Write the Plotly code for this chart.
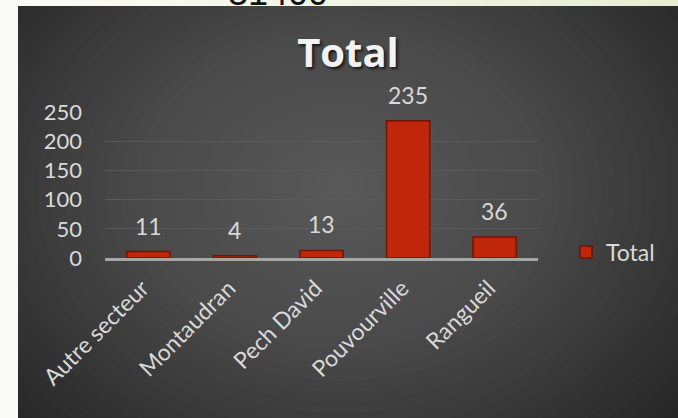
import plotly.graph_objects as go

categories = ["Autre secteur", "Montaudran", "Pech David", "Pouvourville", "Rangueil"]
totals = [11, 4, 13, 235, 36]
y_ticks = [0, 50, 100, 150, 200, 250]
series_name = "Total"
chart_title = "Total"
header_text = "31400"

W, H = 678, 418
# plot area in pixels
L, R, T, B = 105, 538, 112, 258


def fx(px):
    return (px - L) / (R - L)


def fy(py):
    return (B - py) / (B - T)


FONT = "Lato, 'Open Sans', sans-serif"
LABEL = "#d9d9d9"

fig = go.Figure()
fig.add_trace(go.Bar(
    x=categories, y=totals, name=series_name, width=0.5,
    marker=dict(color="#bf260a", line=dict(color="#6e1506", width=1.5)),
    showlegend=True, hoverinfo="x+y",
))

# dark panel with a soft radial glow
shapes = [dict(type="rect", xref="paper", yref="paper", x0=fx(18), x1=fx(W + 5),
               y0=fy(H + 5), y1=fy(6), fillcolor="#262626", line_width=0, layer="below")]
cx, cy = 340, 190
n = 32
for i in range(n):
    k = 1 - i / n
    rx, ry = 440 * k, 340 * k
    shapes.append(dict(type="circle", xref="paper", yref="paper",
                       x0=fx(cx - rx), x1=fx(cx + rx), y0=fy(cy + ry), y1=fy(cy - ry),
                       fillcolor="#808080", opacity=0.026, line_width=0, layer="below"))

# light page strips around the panel
shapes.append(dict(type="rect", xref="paper", yref="paper", x0=fx(-5), x1=fx(18),
                   y0=fy(H + 5), y1=fy(-5), fillcolor="#f9faf5", line_width=0, layer="below"))
segs = 24
c0 = (251, 251, 247)
c1 = (232, 237, 211)
for i in range(segs):
    t = i / (segs - 1)
    col = tuple(round(a + (b - a) * t) for a, b in zip(c0, c1))
    shapes.append(dict(type="rect", xref="paper", yref="paper",
                       x0=fx(18 + (W - 18) * i / segs), x1=fx(18 + (W - 18) * (i + 1) / segs + 1),
                       y0=fy(6), y1=fy(-5), fillcolor="rgb(%d,%d,%d)" % col,
                       line_width=0, layer="below"))

annotations = [dict(x=fx(278), y=fy(15), xref="paper", yref="paper", text=header_text,
                    showarrow=False, xanchor="center", yanchor="bottom",
                    font=dict(family="Liberation Sans, Arial", size=36, color="#111111"))]
for c, v in zip(categories, totals):
    annotations.append(dict(x=c, y=v, xref="x", yref="y", text=str(v), showarrow=False,
                            yanchor="bottom", yshift=10,
                            font=dict(family=FONT, size=23, color=LABEL)))

fig.update_layout(
    width=W, height=H,
    margin=dict(l=L, r=W - R, t=T, b=H - B, autoexpand=False),
    paper_bgcolor="#f9faf5",
    plot_bgcolor="rgba(0,0,0,0)",
    shapes=shapes,
    annotations=annotations,
    font=dict(family=FONT, size=22, color=LABEL),
    title=dict(text=chart_title, xref="container", yref="container",
               x=348 / W, y=1 - 53 / H, xanchor="center", yanchor="middle",
               font=dict(family="'Open Sans', Lato, sans-serif", size=40, color="#f2f2f2",
                         weight="bold", shadow="2px 2px 3px rgba(0,0,0,0.7)")),
    bargap=0.5,
    showlegend=True,
    legend=dict(x=fx(566), y=fy(252), xanchor="left", yanchor="middle",
                bgcolor="rgba(0,0,0,0)", font=dict(family=FONT, size=23, color=LABEL)),
)
fig.update_xaxes(showline=True, linecolor="#a6a6a6", linewidth=2.5, showgrid=False,
                 tickangle=-45, ticks="", ticklabelstandoff=5, ticklabelshift=-6,
                 automargin=False, tickfont=dict(family=FONT, size=23, color=LABEL))
fig.update_yaxes(range=[0, 250], tickvals=y_ticks, showgrid=True, gridcolor="#5a5a5a",
                 gridwidth=1, zeroline=False, showline=False, ticks="",
                 ticklabelstandoff=22, automargin=False,
                 tickfont=dict(family=FONT, size=22, color=LABEL))

fig.write_html("out.html", config={"displayModeBar": False},
               post_script="document.body.style.margin='0';")
